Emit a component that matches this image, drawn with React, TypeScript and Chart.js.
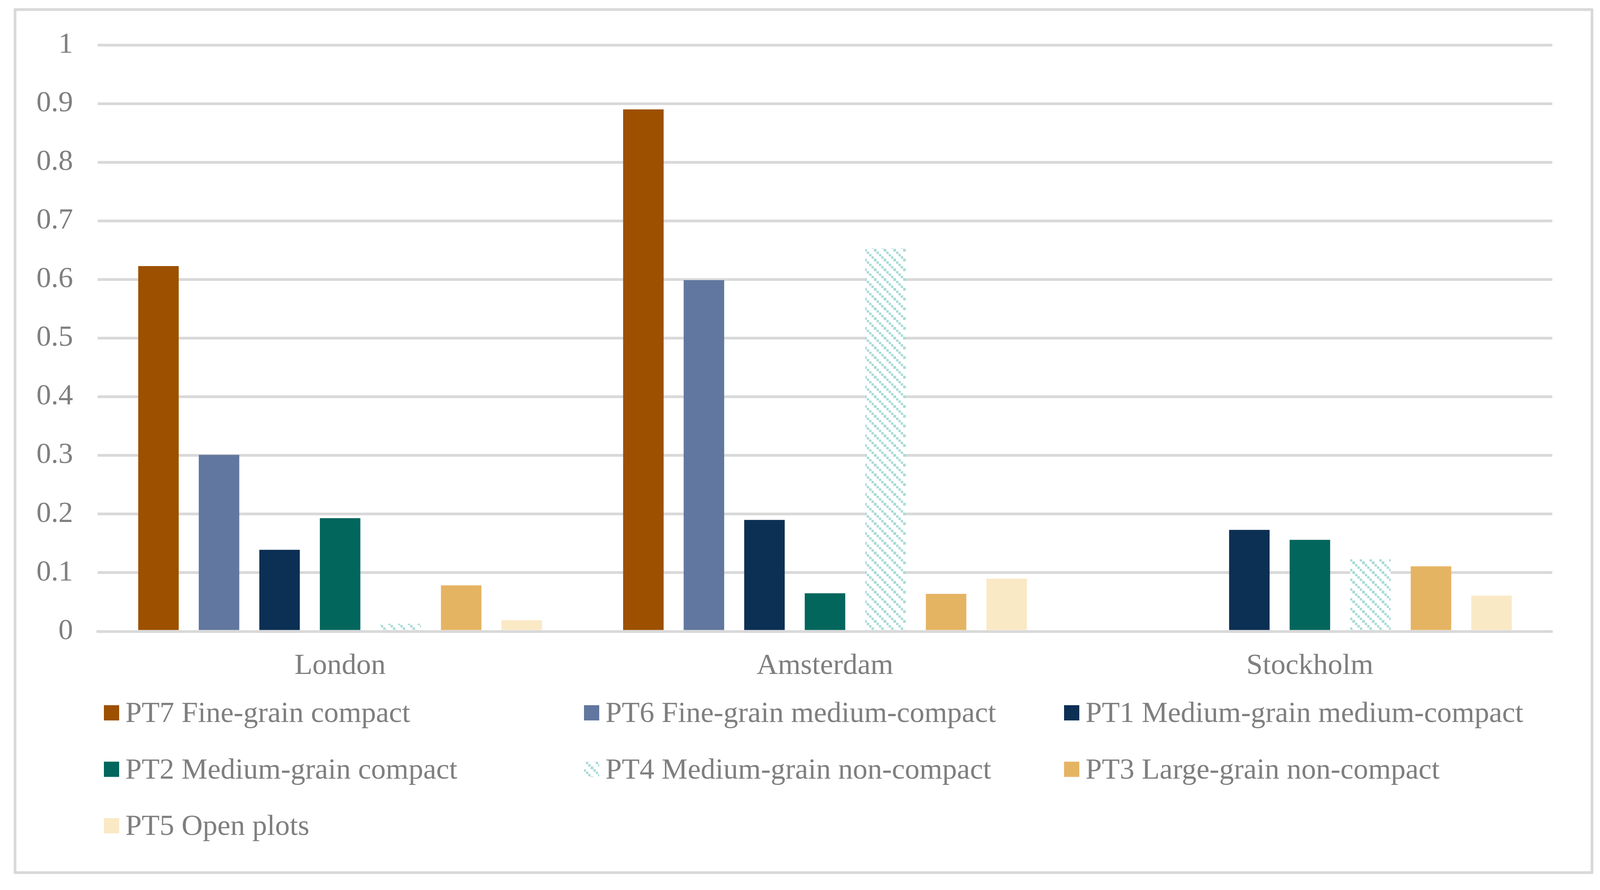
import { useEffect, useRef } from 'react';
import { Chart, registerables } from 'chart.js';

Chart.register(...registerables);

// categories and series
const cities = ['London', 'Amsterdam', 'Stockholm'];

const pt7Values = [0.623, 0.89, 0];
const pt6Values = [0.301, 0.599, 0];
const pt1Values = [0.139, 0.19, 0.173];
const pt2Values = [0.193, 0.065, 0.156];
const pt4Values = [0.013, 0.653, 0.123];
const pt3Values = [0.0785, 0.064, 0.111];
const pt5Values = [0.019, 0.09, 0.061];

const yTickLabels = ['0', '0.1', '0.2', '0.3', '0.4', '0.5', '0.6', '0.7', '0.8', '0.9', '1'];

const FONT = "'Liberation Serif', 'Times New Roman', serif";
const TEXT_COLOR = '#7F7F7F';
const GRID_COLOR = '#D9D9D9';
const HATCH_COLOR = '#A9DBD6';

// diagonal staircase hatch for PT4 (white background hides the grid)
function makeHatch(): CanvasPattern | string {
  const tile = document.createElement('canvas');
  tile.width = 25;
  tile.height = 25;
  const tctx = tile.getContext('2d');
  if (!tctx) return HATCH_COLOR;
  tctx.fillStyle = '#FFFFFF';
  tctx.fillRect(0, 0, 25, 25);
  tctx.fillStyle = HATCH_COLOR;
  const steps = [0, 6, 12, 19];
  const sizes = [6, 6, 7, 6];
  steps.forEach((s, k) => tctx.fillRect(s, s, sizes[k], sizes[k]));
  return tctx.createPattern(tile, 'repeat') || HATCH_COLOR;
}

// legend laid out in a fixed 3-column grid under the axis labels
const gridLegend = {
  id: 'gridLegend',
  afterDraw(chart: Chart) {
    const { ctx, chartArea } = chart;
    ctx.save();
    ctx.font = `75px ${FONT}`;
    ctx.textAlign = 'left';
    ctx.textBaseline = 'alphabetic';
    chart.data.datasets.forEach((ds, i) => {
      const col = i % 3;
      const row = Math.floor(i / 3);
      const x = chartArea.left + 16 + col * 1229;
      const y = chartArea.bottom + 189 + row * 144.5;
      ctx.fillStyle = ds.backgroundColor as any;
      ctx.fillRect(x, y, 39, 39);
      ctx.fillStyle = TEXT_COLOR;
      ctx.fillText(String(ds.label), x + 55, y + 43);
    });
    ctx.restore();
  }
};

const ChartCanvas = () => {
  const canvasRef = useRef<HTMLCanvasElement>(null);
  const chartRef = useRef<Chart | null>(null);

  useEffect(() => {
    if (!canvasRef.current) return;
    const hatch = makeHatch();

    const datasets = [
      { label: 'PT7 Fine-grain compact', data: pt7Values, backgroundColor: '#9C5000' },
      { label: 'PT6 Fine-grain medium-compact', data: pt6Values, backgroundColor: '#61779F' },
      { label: 'PT1 Medium-grain medium-compact', data: pt1Values, backgroundColor: '#0C2F54' },
      { label: 'PT2 Medium-grain compact', data: pt2Values, backgroundColor: '#02665D' },
      { label: 'PT4 Medium-grain non-compact', data: pt4Values, backgroundColor: hatch },
      { label: 'PT3 Large-grain non-compact', data: pt3Values, backgroundColor: '#E5B463' },
      { label: 'PT5 Open plots', data: pt5Values, backgroundColor: '#FAE9C5' }
    ].map(d => ({
      ...d,
      borderWidth: 0,
      categoryPercentage: 0.874,
      barPercentage: 0.669
    }));

    chartRef.current = new Chart(canvasRef.current, {
      type: 'bar',
      data: { labels: cities, datasets: datasets as any },
      options: {
        animation: false,
        responsive: false,
        devicePixelRatio: 1,
        layout: { padding: { top: 115, right: 133, bottom: 0, left: 0 } },
        plugins: {
          legend: { display: false },
          tooltip: { enabled: false }
        },
        scales: {
          x: {
            grid: { display: false, drawTicks: false },
            border: { display: true, color: GRID_COLOR, width: 7, z: 1 },
            ticks: {
              color: TEXT_COLOR,
              font: { family: FONT, size: 75 },
              padding: 44
            },
            afterFit: (scale: any) => { scale.height = 662; }
          },
          y: {
            min: 0,
            max: 1,
            grid: { color: GRID_COLOR, lineWidth: 7, drawTicks: false },
            border: { display: false },
            ticks: {
              stepSize: 0.1,
              color: TEXT_COLOR,
              font: { family: FONT, size: 75 },
              padding: 63,
              callback: (_v: any, i: number) => yTickLabels[i]
            },
            afterFit: (scale: any) => { scale.width = 250; }
          }
        }
      },
      plugins: [gridLegend]
    });

    return () => {
      if (chartRef.current) {
        chartRef.current.destroy();
        chartRef.current = null;
      }
    };
  }, []);

  return <canvas ref={canvasRef} width={4107} height={2278} style={{ position: 'absolute', left: 0, top: 0 }} />;
};

export default function App() {
  return (
    <div style={{ position: 'absolute', left: 0, top: 0, width: 4107, height: 2278, background: '#FFFFFF' }}>
      <div
        style={{
          position: 'absolute',
          left: 35,
          top: 21,
          width: 4044,
          height: 2216,
          boxSizing: 'border-box',
          border: `7px solid ${GRID_COLOR}`,
          borderRadius: 3
        }}
      />
      <ChartCanvas />
    </div>
  );
}
